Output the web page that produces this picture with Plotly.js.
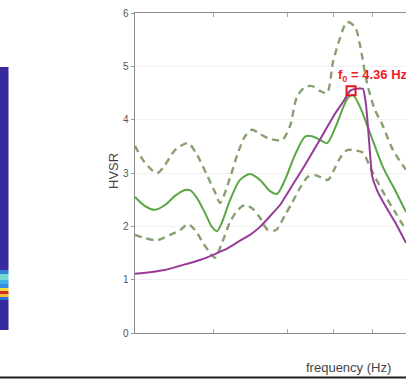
<!DOCTYPE html>
<html>
<head>
<meta charset="utf-8">
<script src="https://cdn.plot.ly/plotly-3.0.1.min.js"></script>
<style>html,body{margin:0;padding:0;background:#fff;}#chart{width:406px;height:382px;}</style>
</head>
<body>
<div id="chart"></div>
<script>
// ---- HVSR curves (frequency in Hz, HVSR ratio) ----
const freqMean = [0.577,0.634,0.696,0.764,0.839,0.921,0.966,1.031,1.111,1.186,1.243,1.303,1.404,1.542,1.693,1.859,2.042,2.180,2.349,2.580,2.833,3.025,3.260,3.481,3.751,4.043,4.236,4.440,4.740,5.206,5.879,6.578,7.292];
const hvsrMean = [2.55,2.38,2.31,2.40,2.57,2.68,2.68,2.53,2.25,1.99,1.91,2.08,2.49,2.87,2.98,2.87,2.66,2.61,2.87,3.34,3.68,3.69,3.62,3.56,3.84,4.22,4.41,4.46,4.24,3.75,3.11,2.68,2.27];

const freqUpper = [0.577,0.634,0.709,0.764,0.839,0.948,1.031,1.132,1.220,1.279,1.404,1.513,1.616,1.725,1.859,2.042,2.285,2.462,2.629,2.833,3.025,3.260,3.481,3.682,3.931,4.197,4.524,4.740,5.061,5.455,5.824,6.456,7.292];
const hvsrUpper = [3.51,3.19,3.00,3.15,3.43,3.56,3.34,2.96,2.64,2.44,2.91,3.38,3.69,3.81,3.73,3.64,3.62,3.88,4.43,4.61,4.63,4.54,4.50,5.08,5.53,5.83,5.74,5.40,4.69,4.18,3.92,3.43,3.06];

const freqLower = [0.577,0.634,0.709,0.801,0.879,0.948,1.012,1.091,1.164,1.220,1.303,1.404,1.513,1.616,1.725,1.859,2.004,2.160,2.349,2.509,2.704,2.914,3.111,3.322,3.514,3.717,3.931,4.197,4.440,4.875,5.206,5.824,6.578,7.292];
const hvsrLower = [1.84,1.78,1.74,1.84,1.93,2.04,1.93,1.69,1.50,1.41,1.69,2.08,2.31,2.40,2.34,2.16,1.93,1.93,2.21,2.44,2.72,2.93,2.96,2.91,2.87,3.06,3.28,3.43,3.43,3.38,3.11,2.68,2.27,1.93];

const freqTheory = [0.577,0.664,0.764,0.879,1.060,1.220,1.365,1.542,1.693,1.859,2.042,2.242,2.509,2.833,3.111,3.416,3.751,4.043,4.317,4.566,4.875,5.014,5.157,5.304,5.558,5.879,6.578,7.292];
const hvsrTheory = [1.11,1.14,1.18,1.26,1.37,1.48,1.58,1.73,1.84,1.99,2.19,2.40,2.76,3.15,3.47,3.79,4.11,4.33,4.54,4.58,4.58,4.28,3.62,2.96,2.68,2.46,2.08,1.69];

const f0Freq = [4.36];
const f0Hvsr = [4.54];
const f0Label = "f<sub>0</sub> = 4.36 Hz";

const yTickVals = [0,1,2,3,4,5,6];
const xTickVals = [1.2,2.4,3.7,5.35];

// ---- left panel (spectrogram strip) ----
const stripEdges = [0,30,33,36,39,42,46,50,56,60,263];
const stripZ = [[0,0],[0.3,0.3],[0.8,0.8],[1,1],[0.75,0.75],[0.4,0.4],[0.5,0.5],[0.6,0.6],[0.35,0.35],[0,0]];

const dashGreen = '#86a072';
const traces = [
  {type:'heatmap', x:[0,1,2], y:stripEdges, z:stripZ, xaxis:'x2', yaxis:'y2', zmin:0, zmax:1,
   showscale:false, zsmooth:false, hoverinfo:'skip',
   colorscale:[[0,'#362a9c'],[0.3,'#2f6ed6'],[0.5,'#3fb2e8'],[0.6,'#72d8d0'],[0.75,'#f4df3a'],[0.85,'#f39c2e'],[1,'#d42a20']]},
  {type:'scatter', mode:'lines', x:freqUpper, y:hvsrUpper, line:{color:dashGreen, width:2.4, dash:'7px,5px', shape:'spline', smoothing:0.8}, showlegend:false},
  {type:'scatter', mode:'lines', x:freqLower, y:hvsrLower, line:{color:dashGreen, width:2.4, dash:'7px,5px', shape:'spline', smoothing:0.8}, showlegend:false},
  {type:'scatter', mode:'lines', x:freqMean, y:hvsrMean, line:{color:'#5aa743', width:2, shape:'spline', smoothing:0.8}, showlegend:false},
  {type:'scatter', mode:'lines', x:freqTheory, y:hvsrTheory, line:{color:'#973a98', width:2, shape:'spline', smoothing:0.4}, showlegend:false},
  {type:'scatter', mode:'markers', x:f0Freq, y:f0Hvsr, marker:{symbol:'square-open', size:9, color:'#e8141c', line:{width:2, color:'#e8141c'}}, showlegend:false}
];

const layout = {
  width:406, height:382,
  margin:{l:0, r:0, t:13, b:49},
  paper_bgcolor:'#ffffff', plot_bgcolor:'#ffffff',
  font:{family:'Liberation Sans, Arial, sans-serif', color:'#444'},
  showlegend:false,
  xaxis:{domain:[135/406,1], type:'log', range:[-0.2388,0.8628], showticklabels:false,
         tickvals:xTickVals, ticks:'inside', ticklen:4, tickcolor:'#aaa',
         showline:true, linecolor:'#8c8c8c', linewidth:1.4, mirror:'ticks', showgrid:false, zeroline:false, anchor:'y'},
  yaxis:{domain:[0,1], range:[0,6], tickvals:yTickVals, ticks:'outside', ticklen:3, tickcolor:'#999',
         tickfont:{size:10, color:'#555'}, showline:true, linecolor:'#8c8c8c', linewidth:1.4,
         showgrid:true, gridcolor:'#f1f1f1', zeroline:false, anchor:'x'},
  xaxis2:{domain:[0,8.5/406], range:[0,2], visible:false, anchor:'y2', fixedrange:true},
  yaxis2:{domain:[3/320,266/320], range:[0,263], visible:false, anchor:'x2', fixedrange:true},
  annotations:[
    {xref:'x', yref:'y', x:Math.log10(f0Freq[0]), y:f0Hvsr[0], text:'<b>'+f0Label+'</b>', showarrow:false,
     xanchor:'left', yanchor:'bottom', xshift:-15, yshift:5,
     font:{family:'Liberation Sans, Arial, sans-serif', size:13, color:'#ee1c24'}},
    {xref:'paper', yref:'paper', x:348/406, y:(333-367)/320, text:'frequency (Hz)', showarrow:false,
     xanchor:'center', yanchor:'middle', font:{size:13, color:'#444'}},
    {xref:'paper', yref:'paper', x:113/406, y:(333-171)/320, text:'HVSR', showarrow:false, textangle:-90,
     xanchor:'center', yanchor:'middle', font:{size:13, color:'#444'}}
  ],
  shapes:[
    {type:'line', xref:'paper', yref:'paper', x0:0, x1:1, y0:(333-377.5)/320, y1:(333-377.5)/320,
     line:{color:'#1e1e1e', width:2}}
  ]
};

Plotly.newPlot('chart', traces, layout, {displayModeBar:false, staticPlot:true});
</script>
</body>
</html>
